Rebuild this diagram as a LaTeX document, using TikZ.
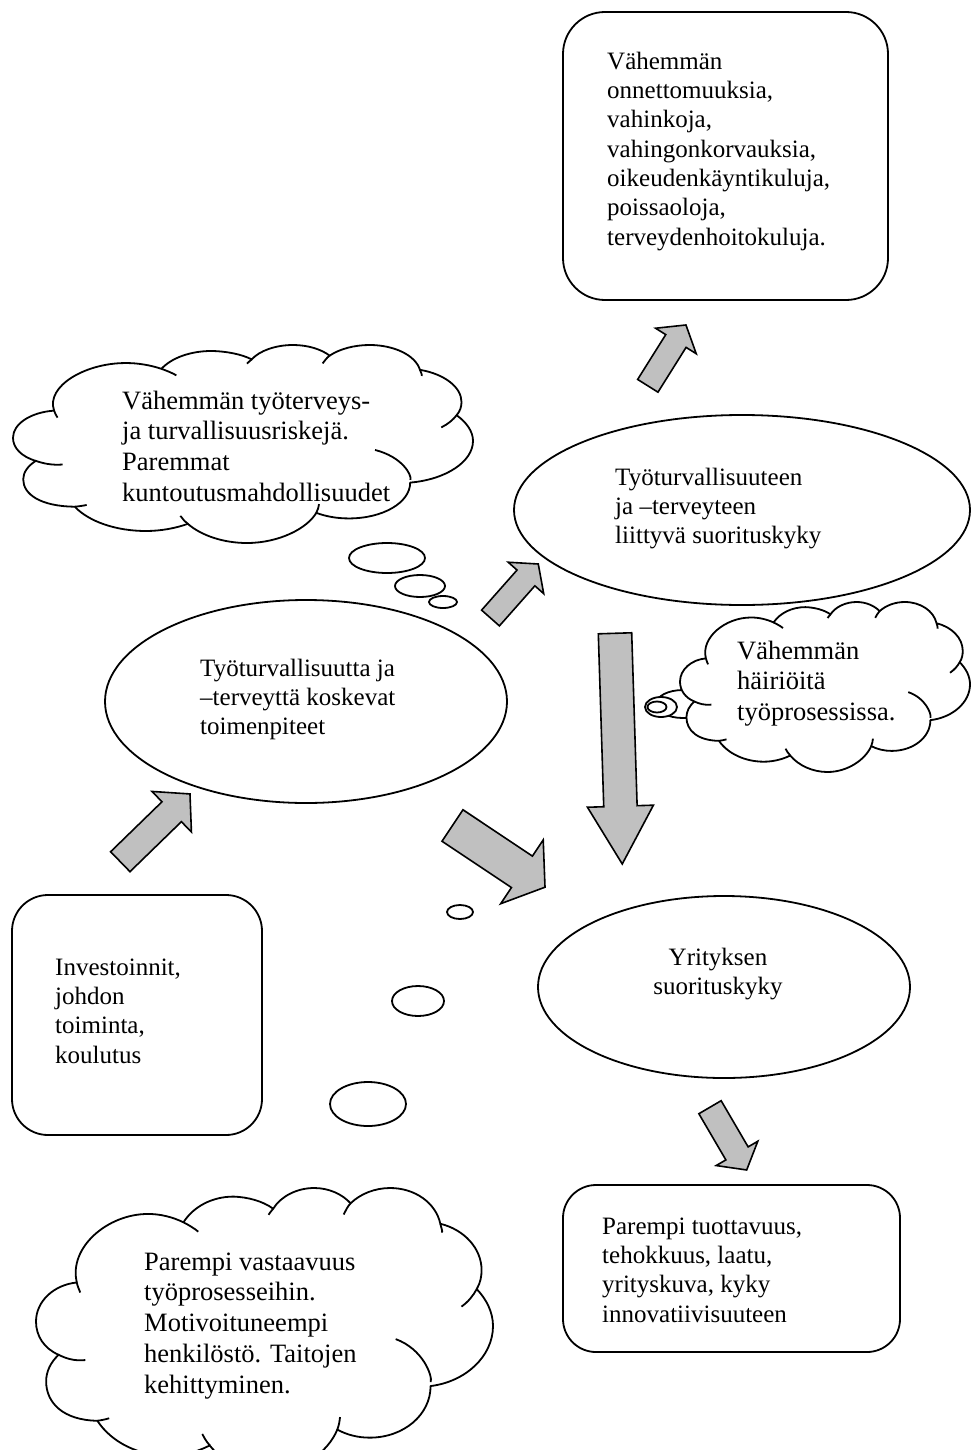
\documentclass[tikz,border=0pt]{standalone}
\usepackage{fontspec}
\setmainfont{Liberation Serif}
\usetikzlibrary{shapes.geometric}
\definecolor{arrowgray}{RGB}{192,192,192}

\tikzset{
  outline/.style={draw=black, line width=1.8pt, fill=white},
  roundbox/.style={outline, rectangle, inner sep=0pt},
  oval/.style={outline, ellipse, inner sep=0pt},
  bubble/.style={outline, ellipse, inner sep=0pt},
  cloudline/.style={draw=black, line width=1.8pt, line join=round},
  arrowbody/.style={draw=black, line width=1.6pt, fill=arrowgray, line join=miter},
  boxtext/.style={anchor=north west, inner sep=0pt, align=left,
    font=\fontsize{25}{29.3}\selectfont},
  cloudtext/.style={anchor=north west, inner sep=0pt, align=left,
    font=\fontsize{26.5}{30.8}\selectfont},
  % block arrow: length / shaft half width / head half width / head length
  pics/blockarrow/.style n args={4}{code={
    \draw[arrowbody] (0,-#2) -- (#1-#4,-#2) -- (#1-#4,-#3) -- (#1,0)
      -- (#1-#4,#3) -- (#1-#4,#2) -- (0,#2) -- cycle;}},
}

% cloud outline in a 21.6 x 21.6 frame: left, top, width, height
\newcommand{\drawcloud}[4]{%
  \pgfmathsetmacro{\cloudsx}{#3/21.6}%
  \pgfmathsetmacro{\cloudsy}{#4/21.6}%
  \begin{scope}[shift={(#1,#2)}, x=\cloudsx pt, y=-\cloudsy pt]
    \filldraw[cloudline, fill=white] (1.930,7.160)
      .. controls (1.530,4.490) and (3.400,1.970) .. (5.270,1.970)
      .. controls (5.860,1.950) and (6.470,2.210) .. (6.970,2.600)
      .. controls (7.450,1.390) and (8.340,0.650) .. (9.340,0.650)
      .. controls (10.004,0.690) and (10.710,0.980) .. (11.210,1.570)
      .. controls (11.570,0.630) and (12.330,0) .. (13.150,0)
      .. controls (13.840,0) and (14.470,0.460) .. (14.870,1.160)
      .. controls (15.330,0.440) and (16.020,0) .. (16.740,0)
      .. controls (17.910,0) and (18.900,1.130) .. (19.110,2.710)
      .. controls (20.240,3.150) and (21.060,4.580) .. (21.060,6.220)
      .. controls (21.060,6.720) and (21.000,7.200) .. (20.830,7.660)
      .. controls (21.310,8.460) and (21.600,9.450) .. (21.600,10.460)
      .. controls (21.600,12.750) and (20.310,14.680) .. (18.650,15.010)
      .. controls (18.650,17.200) and (17.370,18.920) .. (15.770,18.920)
      .. controls (15.220,18.920) and (14.700,18.710) .. (14.240,18.310)
      .. controls (13.820,20.000) and (12.490,21.600) .. (10.980,21.600)
      .. controls (9.890,21.600) and (8.840,20.790) .. (8.210,19.510)
      .. controls (7.620,20.000) and (6.930,20.290) .. (6.240,20.290)
      .. controls (4.850,20.290) and (3.570,19.280) .. (2.900,17.640)
      .. controls (1.300,17.600) and (0.480,16.300) .. (0.480,14.660)
      .. controls (0.480,13.900) and (0.690,13.210) .. (1.070,12.640)
      .. controls (0.380,12.160) and (0,11.210) .. (0,10.120)
      .. controls (0,8.590) and (0.840,7.330) .. (1.930,7.160)
      -- cycle;
    \draw[cloudline]
      (1.930,7.160) .. controls (1.950,7.410) and (2.040,7.690) .. (2.090,7.920)
      (6.970,2.600) .. controls (7.200,2.790) and (7.480,3.050) .. (7.670,3.310)
      (11.210,1.570) .. controls (11.130,1.710) and (11.060,1.870) .. (10.990,2.030)
      (14.870,1.160) .. controls (14.720,1.400) and (14.640,1.720) .. (14.540,2.010)
      (19.110,2.710) .. controls (19.130,2.890) and (19.230,3.290) .. (19.190,3.380)
      (20.830,7.660) .. controls (20.660,8.170) and (20.430,8.620) .. (20.110,8.990)
      (18.660,14.710) .. controls (18.740,14.200) and (18.280,12.200) .. (17.000,11.450)
      (14.240,18.310) .. controls (14.320,17.980) and (14.350,17.680) .. (14.370,17.360)
      (8.220,19.510) .. controls (8.060,19.250) and (7.960,18.950) .. (7.860,18.640)
      (2.900,17.640) .. controls (3.090,17.600) and (3.280,17.540) .. (3.460,17.450)
      (1.070,12.640) .. controls (1.400,12.900) and (1.780,13.130) .. (2.330,13.040);
  \end{scope}}

\begin{document}
\begin{tikzpicture}[x=1pt, y=-1pt]
\useasboundingbox (0,0) rectangle (972,1450);
\clip (0,0) rectangle (972,1450);
\fill[white] (0,0) rectangle (972,1450);

% boxes and ovals
\node[roundbox, rounded corners=42pt, minimum width=325pt, minimum height=288pt] (costs) at (725.5,156) {};
\node[oval, minimum width=456pt, minimum height=190pt] (perf) at (742,510) {};
\node[oval, minimum width=402pt, minimum height=203pt] (measures) at (306,701.5) {};
\node[oval, minimum width=372pt, minimum height=182pt] (company) at (724,987) {};
\node[roundbox, rounded corners=36pt, minimum width=250pt, minimum height=240pt] (invest) at (137,1015) {};
\node[roundbox, rounded corners=33pt, minimum width=337pt, minimum height=167pt] (results) at (731.5,1268.5) {};

% thought bubbles
\node[bubble, minimum width=76pt, minimum height=30pt] (b1a) at (387,558) {};
\node[bubble, minimum width=50pt, minimum height=22pt] (b1b) at (420,586) {};
\node[bubble, minimum width=28pt, minimum height=12pt] (b1c) at (443,602) {};

\node[bubble, minimum width=54pt, minimum height=28pt] (b2a) at (683,704) {};
\node[bubble, minimum width=32pt, minimum height=20pt] (b2b) at (661,707) {};
\node[bubble, minimum width=19pt, minimum height=11pt] (b2c) at (657,707) {};

\node[bubble, minimum width=26pt, minimum height=14pt] (b3a) at (460,912) {};
\node[bubble, minimum width=52pt, minimum height=30pt] (b3b) at (418,1001) {};
\node[bubble, minimum width=76pt, minimum height=44pt] (b3c) at (368,1104) {};

% clouds
\drawcloud{13}{345}{460}{198}
\drawcloud{680}{602}{290}{170}
\drawcloud{36}{1188}{457}{285}

% block arrows
\pic[rotate=44.2] at (120.3,861.7) {blockarrow={97.2}{13.9}{28.3}{25.5}};
\pic[rotate=48.5] at (490.5,618) {blockarrow={72.1}{11.9}{23.7}{18.6}};
\pic[rotate=-33.7] at (452.5,825.5) {blockarrow={111.2}{18.9}{38.3}{27.7}};
\pic[rotate=-88.2] at (615,633.3) {blockarrow={230.8}{16.7}{33}{57.8}};
\pic[rotate=57.9] at (647.8,385.8) {blockarrow={71.8}{12}{24}{18.9}};
\pic[rotate=-59.7] at (710,1107.2) {blockarrow={72.7}{12.9}{24.1}{19.2}};

% texts
\node[boxtext] (costs-t) at (607,48.5) {\strut Vähemmän\\onnettomuuksia,\\vahinkoja,\\vahingonkorvauksia,\\oikeudenkäyntikuluja,\\poissaoloja,\\terveydenhoitokuluja.};
\node[cloudtext] (cloud1-t) at (122,387.4) {\strut Vähemmän työterveys-\\ja turvallisuusriskejä.\\Paremmat\\kuntoutusmahdollisuudet};
\node[boxtext] (perf-t) at (615,464.5) {\strut Työturvallisuuteen\\ja –terveyteen\\liittyvä suorituskyky};
\node[cloudtext] (cloud2-t) at (737,637.4) {\strut Vähemmän\\häiriöitä\\työprosessissa.};
\node[boxtext] (measures-t) at (200,655.5) {\strut Työturvallisuutta ja\\–terveyttä koskevat\\toimenpiteet};
\node[boxtext, anchor=north, align=center] (company-t) at (718,944.5) {\strut Yrityksen\\suorituskyky};
\node[boxtext] (invest-t) at (55,954.5) {\strut Investoinnit,\\johdon\\toiminta,\\koulutus};
\node[boxtext] (results-t) at (602,1213.5) {\strut Parempi tuottavuus,\\tehokkuus, laatu,\\yrityskuva, kyky\\innovatiivisuuteen};
\node[cloudtext] (cloud3-t) at (144,1248.4) {\strut Parempi vastaavuus\\työprosesseihin.\\Motivoituneempi\\henkilöstö. Taitojen\\kehittyminen.};
\end{tikzpicture}
\end{document}
